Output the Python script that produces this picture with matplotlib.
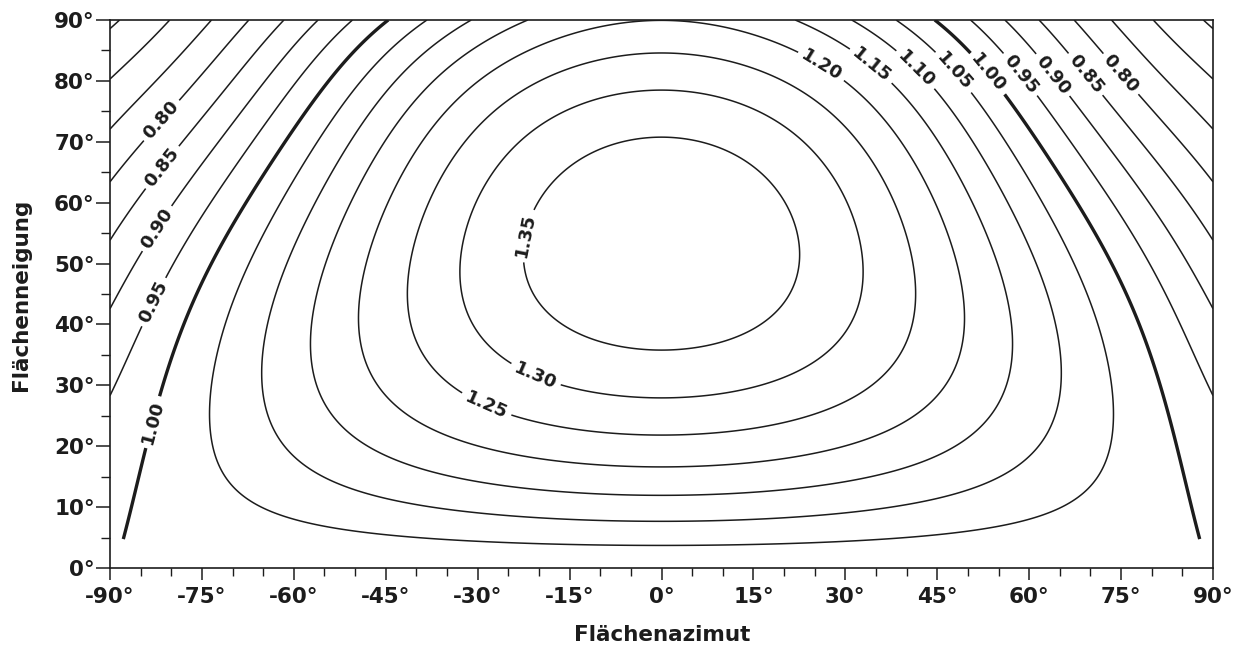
import numpy as np
import matplotlib
matplotlib.use("Agg")
import matplotlib.pyplot as plt

# ---------------- data ----------------
contour_levels = [0.65, 0.70, 0.75, 0.80, 0.85, 0.90, 0.95, 1.00,
                  1.05, 1.10, 1.15, 1.20, 1.25, 1.30, 1.35]
x_ticks = [-90, -75, -60, -45, -30, -15, 0, 15, 30, 45, 60, 75, 90]
y_ticks = [0, 10, 20, 30, 40, 50, 60, 70, 80, 90]
x_label = "Flächenazimut"
y_label = "Flächenneigung"

iso_065 = [(-90, 88.6), (-88.5, 90), (90, 88.1), (89.0, 90)]
iso_070 = [(-90, 80.4), (-80.1, 90), (-85.0, 85.1), (90, 80.1), (80.0, 90)]
iso_075 = [(-90, 72.5), (-73.3, 90), (90, 72.2), (73.5, 90)]
iso_080 = [(-90, 63.4), (-85.1, 69.7), (-78.5, 77.4), (-67.0, 90),
           (90, 63.2), (85.1, 68.6), (67.8, 90)]
iso_085 = [(-90, 54.1), (-78.5, 69.7), (-61.3, 90),
           (90, 53.9), (79.1, 68.6), (62.1, 90)]
iso_090 = [(-90, 42.9), (-79.7, 59.9), (-73.7, 68.6), (-55.6, 90),
           (90, 42.2), (89.2, 44.0), (73.1, 68.6), (56.4, 90)]
iso_095 = [(-90, 28.6), (-84.8, 39.4), (-83.4, 44.0), (-80.2, 47.8), (-67.7, 68.6), (-49.9, 90),
           (90, 28.0), (82.4, 44.0), (67.7, 68.6), (50.9, 90)]
iso_100 = [(-87.8, 4.9), (-84.3, 19.1), (-81.8, 28.4), (-76.9, 44.0), (-73.7, 49.5),
           (-62.3, 68.6), (-44.0, 90),
           (87.9, 4.3), (84.0, 19.4), (75.9, 44.0), (62.3, 68.6), (45.0, 90)]
iso_105 = [(0, 3.6), (-22.6, 4.3), (-39.4, 4.6), (-56.3, 6.5), (-64.4, 9.0), (-69.9, 12.3),
           (-72.6, 17.2), (-73.7, 19.4), (-73.7, 28.1), (-68.8, 47.3), (-57.4, 68.6), (-37.8, 90),
           (22.6, 3.5), (44.3, 5.7), (60.6, 9.0), (69.9, 13.4), (73.4, 21.0), (73.6, 30.9),
           (70.4, 44.0), (68.2, 47.3), (57.4, 68.6), (39.0, 90)]
iso_110 = [(0, 7.5), (-22.6, 9.0), (-39.4, 10.1), (-45.4, 11.2), (-53.6, 13.9), (-59.0, 17.7),
           (-61.4, 19.4), (-62.8, 23.2), (-64.7, 31.4), (-65.0, 33.1), (-61.7, 47.3),
           (-51.4, 68.6), (-30.2, 90),
           (22.6, 8.2), (44.3, 11.7), (55.2, 16.1), (61.0, 20.0), (64.4, 26.5), (65.0, 33.1),
           (63.9, 44.0), (51.9, 68.6), (31.4, 90)]
iso_115 = [(0, 11.8), (-22.6, 13.1), (-47.0, 19.4), (-56.8, 40.2), (-45.4, 68.6), (-20.9, 90),
           (22.6, 12.8), (48.1, 19.4), (57.4, 38.0), (56.8, 44.0), (45.9, 68.6), (22.1, 90)]
iso_120 = [(0, 16.5), (-22.6, 19.4), (-48.9, 44.0), (-45.9, 56.0), (-39.2, 68.6), (-3, 90),
           (22.6, 18.3), (50.0, 41.3), (49.8, 44.0), (39.7, 68.6), (4, 90)]
iso_125 = [(0, 21.8), (-13.3, 23.2), (-22.6, 24.8), (-32.9, 29.8), (-40.5, 39.1), (-41.1, 45.0),
           (-31.8, 68.6), (-29.6, 76.8), (0, 84.2),
           (22.6, 24.3), (42.1, 44.0), (32.3, 68.6)]
iso_130 = [(0, 28.1), (-22.6, 32.0), (-32.7, 50.0), (-24.2, 71.4), (-23.7, 68.6), (0, 78.1),
           (22.6, 32.0), (33.2, 44.0), (33.7, 47.8), (23.7, 68.6)]
iso_135 = [(0, 35.8), (-22.3, 49.5), (-13.3, 67.0), (0, 70.8),
           (20.9, 44.0), (23.4, 51.7), (13.9, 65.9)]

# label anchor points (azimuth, tilt)
label_main_pos = [(-81.7, 73.6), (-81.6, 65.9), (-82.4, 55.8), (-82.5, 43.5),
                  (-21.2, 54.4), (-20.4, 32.0), (-28.5, 27.0),
                  (25.5, 81.5), (33.4, 81.5), (40.8, 81.2), (47.3, 81.1),
                  (58.5, 81.0), (63.9, 81.0), (69.1, 81.0), (74.8, 81.0)]
label_one_pos = [(-83.2, 24.0), (53.0, 81.0)]

# ---------------- smooth surface through the digitised isolines ----------------
traces = [iso_065, iso_070, iso_075, iso_080, iso_085, iso_090, iso_095, iso_100,
          iso_105, iso_110, iso_115, iso_120, iso_125, iso_130, iso_135]
pa, pt, pv = [], [], []
for lev, pts in zip(contour_levels, traces):
    for a, t in pts:
        pa.append(a); pt.append(t); pv.append(lev)
pa, pt, pv = map(np.asarray, (pa, pt, pv))


def basis(az, tilt):
    t = np.asarray(tilt, float) / 90.0
    g = np.radians(np.asarray(az, float))
    cols = []
    for k in range(1, 6):
        for m in range(0, 5):
            cols.append(t ** k * np.cos(m * g))
    return np.stack(cols, axis=-1)


A = basis(pa, pt)
b = pv - 1.0
lam = 1e-5
coef = np.linalg.solve(A.T @ A + lam * np.eye(A.shape[1]), A.T @ b)

az_grid = np.linspace(-90, 90, 361)
tilt_grid = np.linspace(0, 90, 361)
AZ, TI = np.meshgrid(az_grid, tilt_grid)
Z = 1.0 + basis(AZ, TI) @ coef
Z_one = np.ma.masked_where(TI < 4.6, Z)

# ---------------- figure ----------------
plt.rcParams['font.family'] = ['DejaVu Sans']
ink = '#1c1c1c'
fig = plt.figure(figsize=(12.46, 6.50), dpi=100)
ax = fig.add_axes([110 / 1246, 1 - 568 / 650, (1213 - 110) / 1246, (568 - 20) / 650])

main_levels = [lv for lv in contour_levels if abs(lv - 1.0) > 1e-9]
cs_main = ax.contour(AZ, TI, Z, levels=main_levels, colors=ink, linewidths=1.1)
cs_one = ax.contour(AZ, TI, Z_one, levels=[1.0], colors=ink, linewidths=2.4)

txt1 = ax.clabel(cs_main, fmt='%.2f', fontsize=13, inline=True, inline_spacing=7,
                 manual=label_main_pos)
txt2 = ax.clabel(cs_one, fmt='%.2f', fontsize=13, inline=True, inline_spacing=7,
                 manual=label_one_pos)
for t in list(txt1) + list(txt2):
    t.set_fontweight('bold')
    t.set_color(ink)

ax.set_xlim(-90, 90)
ax.set_ylim(0, 90)
ax.set_xticks(x_ticks)
ax.set_xticklabels([f"{v}°" for v in x_ticks], fontweight='bold')
ax.set_yticks(y_ticks)
ax.set_yticklabels([f"{v}°" for v in y_ticks], fontweight='bold')
ax.set_xticks(np.arange(-90, 91, 5), minor=True)
ax.set_yticks(np.arange(0, 91, 5), minor=True)
ax.tick_params(axis='x', which='major', direction='out', length=8.5, width=1.1,
               labelsize=15.5, pad=5, colors=ink)
ax.tick_params(axis='x', which='minor', direction='out', length=5.5, width=1.0, colors=ink)
ax.tick_params(axis='y', which='major', direction='out', length=10, width=1.1,
               labelsize=15.5, pad=1, colors=ink)
ax.tick_params(axis='y', which='minor', direction='out', length=6.5, width=1.0, colors=ink)
for s in ax.spines.values():
    s.set_linewidth(1.2)
    s.set_color(ink)

fig.text(662 / 1246, 1 - 635 / 650, x_label, ha='center', va='center', fontsize=15.5,
         fontweight='bold', color=ink)
fig.text(21 / 1246, 1 - 295 / 650, y_label, ha='center', va='center', rotation=90,
         fontsize=15.5, fontweight='bold', color=ink)

fig.savefig("out.png", dpi=100)
